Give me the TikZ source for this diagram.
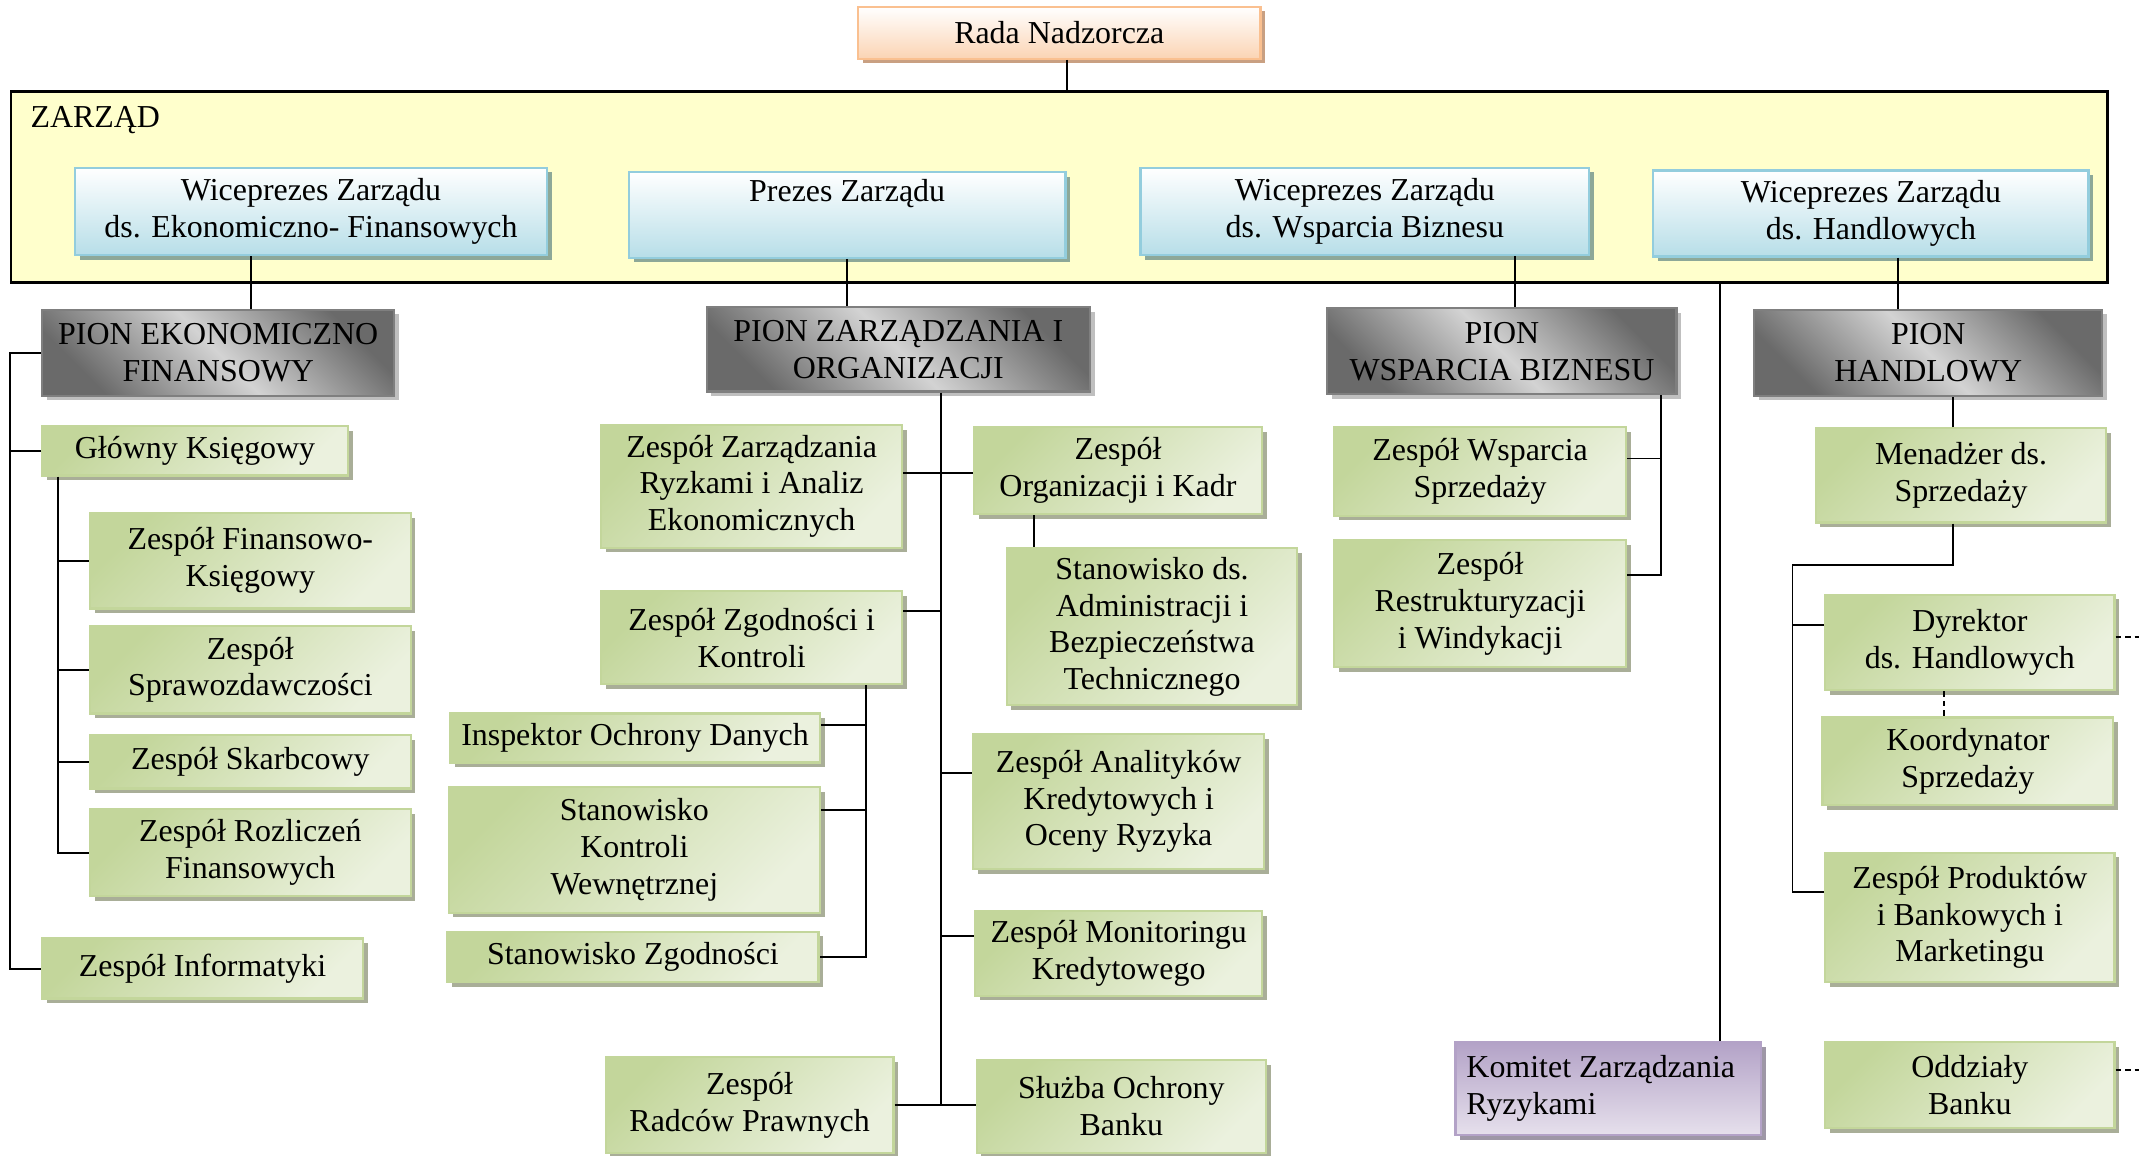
\documentclass[tikz,border=0pt]{standalone}
\usepackage{fontspec}
\setmainfont{Liberation Serif}
\usepackage{tikz}
\usetikzlibrary{shadows}
\usepackage{xcolor}
\definecolor{zarzadfill}{HTML}{FFFFCC}
\definecolor{radaline}{HTML}{FAC090}
\definecolor{radabot}{HTML}{FBD4B4}
\definecolor{radashadow}{HTML}{C9A082}
\definecolor{blueline}{HTML}{93CDDD}
\definecolor{bluebot}{HTML}{B7DEE8}
\definecolor{blueshadow}{HTML}{8DA898}
\definecolor{piondark}{HTML}{6A6A6A}
\definecolor{pionlight}{HTML}{D3D3D3}
\definecolor{pionline}{HTML}{7F7F7F}
\definecolor{pionshadow}{HTML}{BFBFBF}
\definecolor{greendark}{HTML}{C3D69B}
\definecolor{greenlight}{HTML}{EBF1DE}
\definecolor{greenshadow}{HTML}{A9AE98}
\definecolor{purpdark}{HTML}{B3A2C7}
\definecolor{purplight}{HTML}{E6E0EC}
\definecolor{purpshadow}{HTML}{9E97A6}

\begin{document}
\begin{tikzpicture}[x=0.5pt,y=-0.5pt,
font=\fontsize{11.7}{13.5}\selectfont,
wh/.style 2 args={minimum width=#1*0.5pt,minimum height=#2*0.5pt},
box/.style={draw,line width=0.8pt,align=center,inner sep=1pt},
shad/.style={drop shadow={shadow xshift=1.7pt,shadow yshift=-1.7pt,fill=#1,opacity=1}},
radabox/.style={box,draw=radaline,top color=white,bottom color=radabot,shad=radashadow},
bluebox/.style={box,draw=blueline,top color=white,bottom color=bluebot,shad=blueshadow},
pionbox/.style={box,draw=pionline,top color=piondark,bottom color=piondark,middle color=pionlight,shading angle=-45,shad=pionshadow},
greenbox/.style={box,draw=greendark,top color=greendark,bottom color=greenlight,shading angle=45,shad=greenshadow},
purpbox/.style={box,draw=purpdark,top color=purpdark,bottom color=purplight,shad=purpshadow},
conn/.style={line width=0.7pt},
]
\useasboundingbox (0,0) rectangle (1568,847);

\node[draw=black,line width=1pt,fill=zarzadfill,wh={1537}{140},inner sep=0] (zarzad) at (776.5,137) {};
\node[anchor=west,inner sep=0] (zlab) at (22,88) {ZARZĄD};

\node[radabox,wh={295}{38}] (rada) at (776.5,24) {Rada Nadzorcza};

\node[bluebox,wh={346}{64}] (vp1) at (228,155) {Wiceprezes Zarządu\\ds. Ekonomiczno- Finansowych};
\node[bluebox,wh={320}{63}] (prz) at (621,157.5) {Prezes Zarządu\\\strut};
\node[bluebox,wh={329}{64}] (vp2) at (1000.5,155) {Wiceprezes Zarządu\\ds. Wsparcia Biznesu};
\node[bluebox,wh={319}{63}] (vp3) at (1371.5,156.5) {Wiceprezes Zarządu\\ds. Handlowych};

\node[pionbox,wh={258}{63}] (pef) at (160,258.5) {PION EKONOMICZNO\\FINANSOWY};
\node[pionbox,wh={281}{62}] (pzo) at (658.5,256) {PION ZARZĄDZANIA I\\ORGANIZACJI};
\node[pionbox,wh={256}{63}] (pwb) at (1101,257.5) {PION\\WSPARCIA BIZNESU};
\node[pionbox,wh={255}{63}] (phn) at (1413.5,258.5) {PION\\HANDLOWY};

\node[greenbox,wh={224}{36}] (gk) at (143,330.5) {Główny Księgowy};
\node[greenbox,wh={235}{70}] (fk) at (183.5,411) {Zespół Finansowo-\\Księgowy};
\node[greenbox,wh={235}{64}] (sp) at (183.5,491) {Zespół\\Sprawozdawczości};
\node[greenbox,wh={235}{39}] (sk) at (183.5,558.5) {Zespół Skarbcowy};
\node[greenbox,wh={235}{64}] (rf) at (183.5,625) {Zespół Rozliczeń\\Finansowych};
\node[greenbox,wh={235}{44}] (inf) at (148.5,710) {Zespół Informatyki};

\node[greenbox,wh={221}{90}] (zzr) at (551,356.5) {Zespół Zarządzania\\Ryzkami i Analiz\\Ekonomicznych};
\node[greenbox,wh={221}{68}] (zgk) at (551,467.5) {Zespół Zgodności i\\Kontroli};
\node[greenbox,wh={271}{36}] (ido) at (465.5,541) {Inspektor Ochrony Danych};
\node[greenbox,wh={272}{92}] (skw) at (465,623) {Stanowisko\\Kontroli\\Wewnętrznej};
\node[greenbox,wh={272}{37}] (sz) at (464,701.5) {Stanowisko Zgodności};
\node[greenbox,wh={211}{70}] (zrp) at (549.5,810) {Zespół\\Radców Prawnych};
\node[greenbox,wh={211}{64}] (zok) at (819.5,345) {Zespół\\Organizacji i Kadr};
\node[greenbox,wh={213}{115}] (sab) at (844.5,459.5) {Stanowisko ds.\\Administracji i\\Bezpieczeństwa\\Technicznego};
\node[greenbox,wh={213}{99}] (zak) at (820,587.5) {Zespół Analityków\\Kredytowych i\\Oceny Ryzyka};
\node[greenbox,wh={210}{62}] (zmk) at (820,699) {Zespół Monitoringu\\Kredytowego};
\node[greenbox,wh={212}{68}] (sob) at (822,811) {Służba Ochrony\\Banku};

\node[greenbox,wh={214}{65}] (zws) at (1085,345.5) {Zespół Wsparcia\\Sprzedaży};
\node[greenbox,wh={214}{93}] (zrw) at (1085,442.5) {Zespół\\Restrukturyzacji\\i Windykacji};
\node[purpbox,wh={224}{68},text width=104pt,align=flush left,inner sep=4pt] (kzr) at (1179,798) {Komitet Zarządzania\\Ryzykami};

\node[greenbox,wh={213}{69}] (mds) at (1437.5,348.5) {Menadżer ds.\\Sprzedaży};
\node[greenbox,wh={212}{70}] (dyr) at (1444,471) {Dyrektor\\ds. Handlowych};
\node[greenbox,wh={213}{64}] (kos) at (1442.5,558) {Koordynator\\Sprzedaży};
\node[greenbox,wh={212}{95}] (zpb) at (1444,672.5) {Zespół Produktów\\i Bankowych i\\Marketingu};
\node[greenbox,wh={212}{63}] (odb) at (1444,795.5) {Oddziały\\Banku};

\draw[conn] ([xshift=2.75pt]rada.south) -- ([xshift=2.75pt]rada.south |- zarzad.north);
\draw[conn] ([xshift=-22pt]vp1.south) -- ([xshift=-22pt]vp1.south |- pef.north);
\draw[conn] (prz.south) -- (prz.south |- pzo.north);
\draw[conn] ([xshift=55pt]vp2.south) -- ([xshift=55pt]vp2.south |- pwb.north);
\draw[conn] ([xshift=10pt]vp3.south) -- ([xshift=10pt]vp3.south |- phn.north);
\draw[conn] ([xshift=41pt]kzr.north) -- ([xshift=41pt]kzr.north |- zarzad.south);

\draw[conn] (pef.west) -- ++(-23,0) coordinate (es) |- (inf.west);
\draw[conn] (gk.west) -- (gk.west -| es);
\draw[conn] (gk.south west) ++(12,0) coordinate (gs) |- (rf.west);
\foreach \n in {fk,sp,sk}
  \draw[conn] (gs |- \n.west) -- (\n.west);

\draw[conn] (pzo.south) ++(31.5,0) coordinate (zs) -- (zs |- sob.west);
\draw[conn] (zzr.5) -- (zzr.5 -| zok.west);
\draw[conn] (zgk.10) -- (zgk.10 -| zs);
\draw[conn] (zs |- zak.169) -- (zak.169);
\draw[conn] (zs |- zmk.173) -- (zmk.173);
\draw[conn] (zrp.east) -- (zrp.east -| sob.west);
\draw[conn] (zgk.south) ++(83.5,0) coordinate (ks) |- (sz.east);
\draw[conn] (ks |- ido.4) -- (ido.4);
\draw[conn] (ks |- skw.12) -- (skw.12);
\draw[conn] ([xshift=-30.75pt]zok.south) -- ([xshift=-30.75pt]zok.south |- sab.north);

\draw[conn] (pwb.south east) ++(-12,0) coordinate (ws) |- (zrw.11);
\draw[conn] (zws.5) -- (zws.5 -| ws);

\coordinate (hs) at (1314,414);
\coordinate (rim) at (1568,0);
\draw[conn] ([xshift=-3pt]mds.north) -- ([xshift=-3pt]mds.north |- phn.south);
\draw[conn] ([xshift=-3pt]mds.south) |- (hs) |- (zpb.170);
\draw[conn] (hs |- dyr.173) -- (dyr.173);
\draw[conn,dash pattern=on 2pt off 1.5pt] (dyr.2) -- (dyr.2 -| rim);
\draw[conn,dash pattern=on 2pt off 1.5pt] (odb.6) -- (odb.6 -| rim);
\draw[conn,dash pattern=on 2pt off 1.5pt] ([xshift=-9.5pt]dyr.south) -- ([xshift=-9.5pt]dyr.south |- kos.north);
\end{tikzpicture}
\end{document}
